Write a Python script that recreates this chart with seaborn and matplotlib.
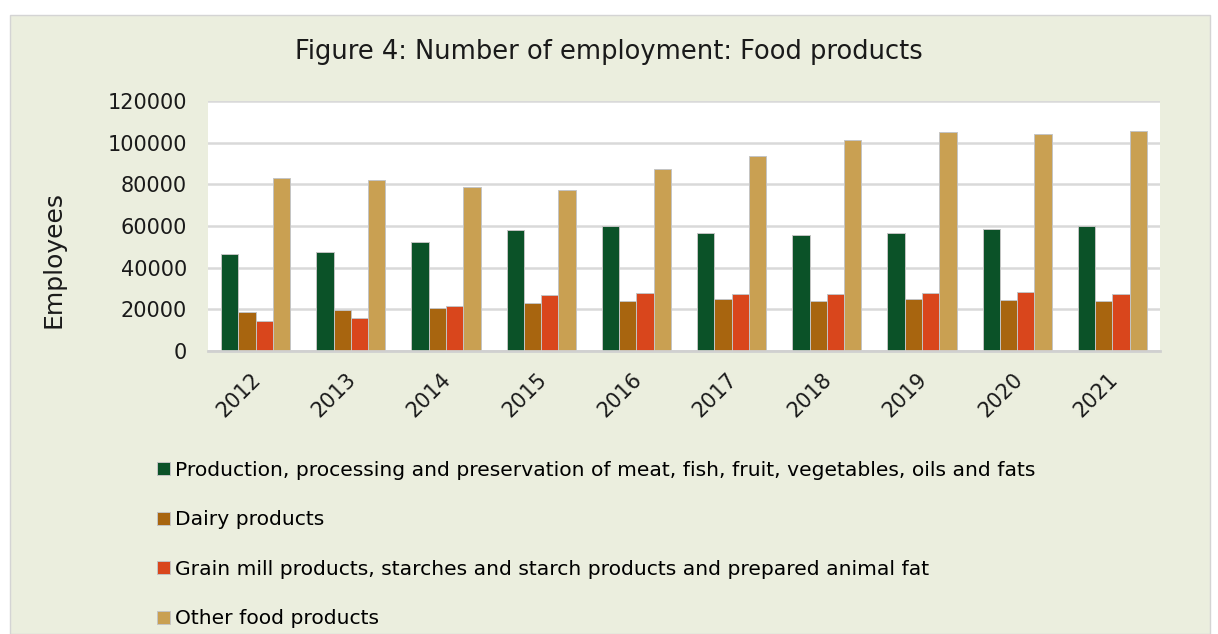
import pandas as pd
import seaborn as sns
import matplotlib.pyplot as plt
from matplotlib.patches import Rectangle
from matplotlib.transforms import ScaledTranslation

years = ['2012', '2013', '2014', '2015', '2016', '2017', '2018', '2019', '2020', '2021']
meat_fish = [46400, 47700, 52200, 57900, 59800, 56800, 55700, 56500, 58700, 60000]
dairy = [18700, 19700, 20600, 23000, 23800, 24800, 24000, 24800, 24600, 24200]
grain_mill = [14200, 15800, 21400, 27000, 28000, 27200, 27500, 28000, 28300, 27500]
other_food = [83200, 81900, 78700, 77300, 87400, 93400, 101300, 105100, 104000, 105600]

series_names = [
    'Production, processing and preservation of meat, fish, fruit, vegetables, oils and fats',
    'Dairy products',
    'Grain mill products, starches and starch products and prepared animal fat',
    'Other food products',
]
colors = ['#0b5228', '#a8650f', '#d9461c', '#c9a052']

df = pd.DataFrame({'year': years * 4,
                   'series': [s for s in series_names for _ in years],
                   'value': meat_fish + dairy + grain_mill + other_food})

bg = '#ebeede'
fig = plt.figure(figsize=(12.18, 6.34), dpi=100)
fig.patch.set_facecolor('white')
fig.patches.append(Rectangle((10 / 1218, 0), 1200 / 1218, 1 - 15 / 634, transform=fig.transFigure,
                             facecolor=bg, edgecolor='#d4d4d4', lw=1, zorder=-10))

ax = fig.add_axes([208 / 1218, 1 - 351 / 634, 952 / 1218, 250 / 634])
sns.barplot(data=df, x='year', y='value', hue='series', palette=colors, saturation=1,
            width=0.725, gap=0, edgecolor='#c4c4c4', linewidth=0.7, ax=ax)

ax.set_facecolor('white')
ax.set_ylim(0, 120000)
ax.set_yticks(range(0, 120001, 20000))
ax.grid(axis='y', color='#d9d9d9', lw=1.8)
ax.set_axisbelow(True)
for s in ['top', 'right', 'left']:
    ax.spines[s].set_visible(False)
ax.spines['bottom'].set_color('#d0d0d0')
ax.spines['bottom'].set_linewidth(2)
ax.tick_params(length=0, labelsize=15, colors='#1a1a1a')
ax.tick_params(axis='y', pad=15)
ax.tick_params(axis='x', pad=13)
shift = ScaledTranslation(-5 / 100, 0, fig.dpi_scale_trans)
for lbl in ax.get_xticklabels():
    lbl.set_rotation(45)
    lbl.set_ha('right')
    lbl.set_rotation_mode('anchor')
    lbl.set_transform(lbl.get_transform() + shift)
ax.set_xlabel('')
ax.set_ylabel('Employees', fontsize=18, color='#1a1a1a')
ax.yaxis.set_label_coords(-0.1502, 0.364)

fig.suptitle('Figure 4: Number of employment: Food products', fontsize=18.5, y=1 - 52 / 634,
             va='center', color='#1a1a1a')

sns.move_legend(ax, 'upper left', bbox_to_anchor=(157 / 1218, 1 - 461 / 634),
                bbox_transform=fig.transFigure, frameon=False, title=None, fontsize=14.6,
                labelspacing=1.5, handlelength=0.62, handleheight=0.62, handletextpad=0.25,
                borderpad=0, borderaxespad=0)

fig.savefig('out.png', dpi=100, facecolor=fig.get_facecolor())
